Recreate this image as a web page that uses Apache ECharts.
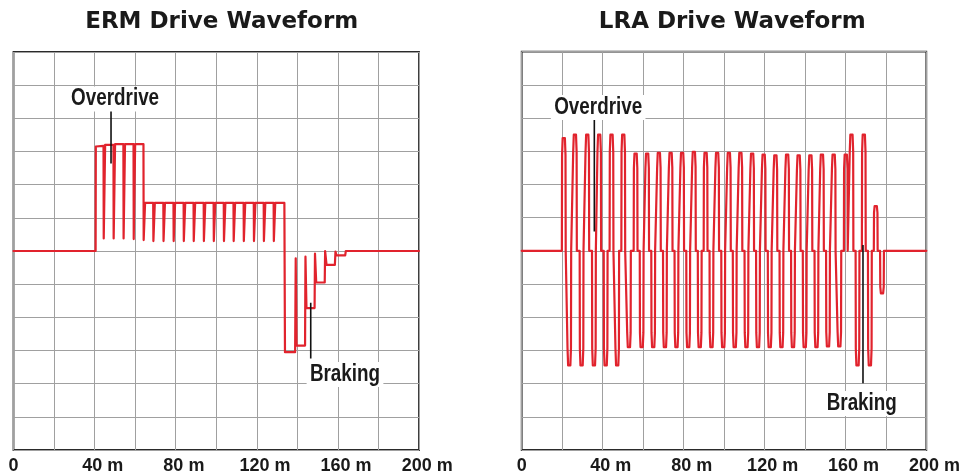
<!DOCTYPE html>
<html><head><meta charset="utf-8">
<script src="https://cdn.jsdelivr.net/npm/echarts@6/dist/echarts.min.js"></script>
<style>html,body{margin:0;padding:0;background:#fff}#c{width:963px;height:476px}</style>
</head><body><div id="c"></div>
<script>
// ---- data (time in ms, level in grid units) ----
const titles = ['ERM Drive Waveform', 'LRA Drive Waveform'];
const xTickLabels = [0, 40, 80, 120, 160, 200];

// ERM drive waveform vertices
const ermX = [0, 40.5, 40.6, 44.4, 44.5, 45.1, 45.2, 49.3, 49.4, 50.0, 50.1, 54.2, 54.3, 54.9, 55.0, 59.2, 59.3, 59.9, 60.0, 64.1, 64.2, 64.8, 64.9,
  68.9, 69.0, 69.6, 69.7, 73.9, 74.0, 74.6, 74.7, 78.9, 79.0, 79.6, 79.7, 83.9, 84.0, 84.6, 84.7, 88.8, 88.9, 89.5, 89.6,
  93.8, 93.9, 94.5, 94.6, 98.7, 98.8, 99.4, 99.5, 103.7, 103.8, 104.4, 104.5, 108.5, 108.6, 109.2, 109.3, 113.5, 113.6, 114.2, 114.3,
  118.5, 118.6, 119.2, 119.3, 123.4, 123.5, 124.1, 124.2, 128.3, 128.4, 129.0, 129.1,
  133.6, 133.9, 138.9, 139.2, 139.6, 143.8, 144.0, 144.5, 148.5, 148.7, 149.3, 153.5, 153.7, 154.4, 158.5, 158.8, 159.3, 163.6, 163.9, 200];
const ermY = [0, 0, 3.15, 3.17, 0.38, 0.38, 3.2, 3.2, 0.38, 0.38, 3.22, 3.22, 0.38, 0.38, 3.22, 3.22, 0.36, 0.36, 3.22, 3.22, 0.33, 0.33, 1.45,
  1.45, 0.3, 0.3, 1.45, 1.45, 0.3, 0.3, 1.45, 1.45, 0.3, 0.3, 1.45, 1.45, 0.3, 0.3, 1.45, 1.45, 0.3, 0.3, 1.45,
  1.45, 0.3, 0.3, 1.45, 1.45, 0.3, 0.3, 1.45, 1.45, 0.3, 0.3, 1.45, 1.45, 0.3, 0.3, 1.45, 1.45, 0.3, 0.3, 1.45,
  1.45, 0.3, 0.3, 1.45, 1.45, 0.3, 0.3, 1.45, 1.45, 0.3, 0.3, 1.45,
  1.45, -3.05, -3.05, -0.22, -2.85, -2.85, -0.17, -1.72, -1.72, -0.08, -0.95, -0.95, 0.0, -0.42, -0.42, -0.02, -0.13, -0.13, 0, 0];

// LRA drive waveform: pulse centres and peak levels
const lraPulseT = [20.8, 23.5, 26.3, 29.6, 32.4, 35.7, 38.3, 41.5, 44.4, 47.2, 50.2, 53.0, 56.3, 59.3, 62.0, 65.0, 67.8, 70.8,
  73.6, 76.5, 79.3, 82.3, 85.1, 88.0, 90.9, 93.8, 96.6, 99.6, 102.4, 105.3, 108.1, 111.1, 113.9, 116.8, 119.6, 122.6,
  125.4, 128.4, 131.2, 134.1, 136.9, 139.9, 142.7, 145.7, 148.4, 151.4, 154.2, 157.0, 160.2, 163.0, 166.0, 169.1, 172.1, 175.0, 178.1];
const lraPulseA = [3.4, -3.45, 3.5, -3.45, 3.5, -3.45, 3.5, -3.45, 3.5, -3.45, 3.5, -2.9, 2.93, -2.9, 2.93, -2.9, 2.95, -2.9,
  2.95, -2.9, 2.95, -2.9, 2.98, -2.9, 2.95, -2.9, 2.95, -2.9, 2.95, -2.9, 2.95, -2.9, 2.93, -2.9, 2.9, -2.9,
  2.88, -2.9, 2.9, -2.9, 2.88, -2.9, 2.88, -2.9, 2.9, -2.88, 2.9, -2.88, 2.9, 3.5, -3.45, 3.5, -3.45, 1.35, -1.28];

// annotations: label text, label anchor, pointer line ends
const ermOverdrive = {text: 'Overdrive', at: [50.1, 4.58], line: [[48.1, 4.25], [48.1, 2.64]]};
const ermBraking = {text: 'Braking', at: [163.5, -3.72], line: [[146.6, -1.56], [146.6, -3.24]]};
const lraOverdrive = {text: 'Overdrive', at: [37.8, 4.32], line: [[35.9, 4.0], [35.9, 0.58]]};
const lraBraking = {text: 'Braking', at: [168.1, -4.6], line: [[168.7, 0.18], [168.7, -3.99]]};

// ---- build ----
const ermData = ermX.map((x, i) => [x, ermY[i]]);
const lraData = [[0, 0]];
lraPulseT.forEach((t, i) => {
  const a = lraPulseA[i];
  lraData.push([t - 0.95, 0], [t - 0.85, 0.85 * a], [t - 0.55, a], [t + 0.55, a], [t + 0.85, 0.85 * a], [t + 0.95, 0]);
});
lraData.push([200, 0]);

const RED = '#e1232d';
const tickFont = "'Liberation Sans', Arial, sans-serif";

function xAxis(idx) {
  return {
    type: 'value', gridIndex: idx, min: 0, max: 200, interval: 20,
    axisLine: {show: false}, axisTick: {show: false},
    splitLine: {show: true, lineStyle: {color: '#a0a0a0', width: 1}},
    axisLabel: {
      margin: 7,
      formatter: v => {
        if (xTickLabels.indexOf(v) < 0) return '';
        if (v === 0) return '{n|0}';
        return '{h| m}{n|' + v + ' m}';
      },
      rich: {
        n: {fontFamily: tickFont, fontWeight: 'bold', fontSize: 18, color: '#1a1a1a'},
        h: {fontFamily: tickFont, fontWeight: 'bold', fontSize: 14, color: 'rgba(0,0,0,0)'}
      }
    }
  };
}
function yAxis(idx) {
  return {
    type: 'value', gridIndex: idx, min: -6, max: 6, interval: 1,
    axisLine: {show: false}, axisTick: {show: false}, axisLabel: {show: false},
    splitLine: {show: true, lineStyle: {color: '#a0a0a0', width: 1}}
  };
}
function waveSeries(idx, data) {
  return {
    type: 'line', xAxisIndex: idx, yAxisIndex: idx, data: data, showSymbol: false, symbol: 'none',
    lineStyle: {color: RED, width: 2.2, join: 'round', cap: 'round'}, z: 3, silent: true
  };
}
function pointerSeries(idx, a) {
  return {
    type: 'line', xAxisIndex: idx, yAxisIndex: idx, data: a.line, symbol: 'none',
    lineStyle: {color: '#111', width: 1.6}, z: 5, silent: true
  };
}

const chart = echarts.init(document.getElementById('c'), null, {renderer: 'canvas'});
chart.setOption({
  animation: false,
  backgroundColor: '#fff',
  title: [
    {text: titles[0], left: 216.7, top: 6, textAlign: 'center',
     textStyle: {fontFamily: "'DejaVu Sans', sans-serif", fontWeight: 'bold', fontSize: 23, color: '#1a1a1a'}},
    {text: titles[1], left: 727.2, top: 6, textAlign: 'center',
     textStyle: {fontFamily: "'DejaVu Sans', sans-serif", fontWeight: 'bold', fontSize: 23, color: '#1a1a1a'}}
  ],
  grid: [
    {left: 13.5, top: 52, width: 405.5, height: 398, show: true, borderColor: '#2a2a2a', borderWidth: 1.8, backgroundColor: '#fff'},
    {left: 521.7, top: 51.7, width: 405, height: 398.3, show: true, borderColor: '#2a2a2a', borderWidth: 1.8, backgroundColor: '#fff'}
  ],
  xAxis: [xAxis(0), xAxis(1)],
  yAxis: [yAxis(0), yAxis(1)],
  series: [
    waveSeries(0, ermData),
    waveSeries(1, lraData),
    pointerSeries(0, ermOverdrive),
    pointerSeries(0, ermBraking),
    pointerSeries(1, lraOverdrive),
    pointerSeries(1, lraBraking)
  ]
});

// annotation texts placed through the chart's own coordinate conversion
const annos = [[0, ermOverdrive], [0, ermBraking], [1, lraOverdrive], [1, lraBraking]];
chart.setOption({
  graphic: annos.map(([g, a]) => {
    const p = chart.convertToPixel({gridIndex: g}, a.at);
    return {
      type: 'text', x: p[0], y: p[1], scaleX: 0.82, z: 100, silent: true,
      style: {
        text: a.text, fontFamily: tickFont, fontWeight: 'bold', fontSize: 23, fill: '#1a1a1a',
        align: 'center', verticalAlign: 'middle', backgroundColor: '#fff', padding: [2, 4, 0, 4]
      }
    };
  })
});
</script></body></html>
